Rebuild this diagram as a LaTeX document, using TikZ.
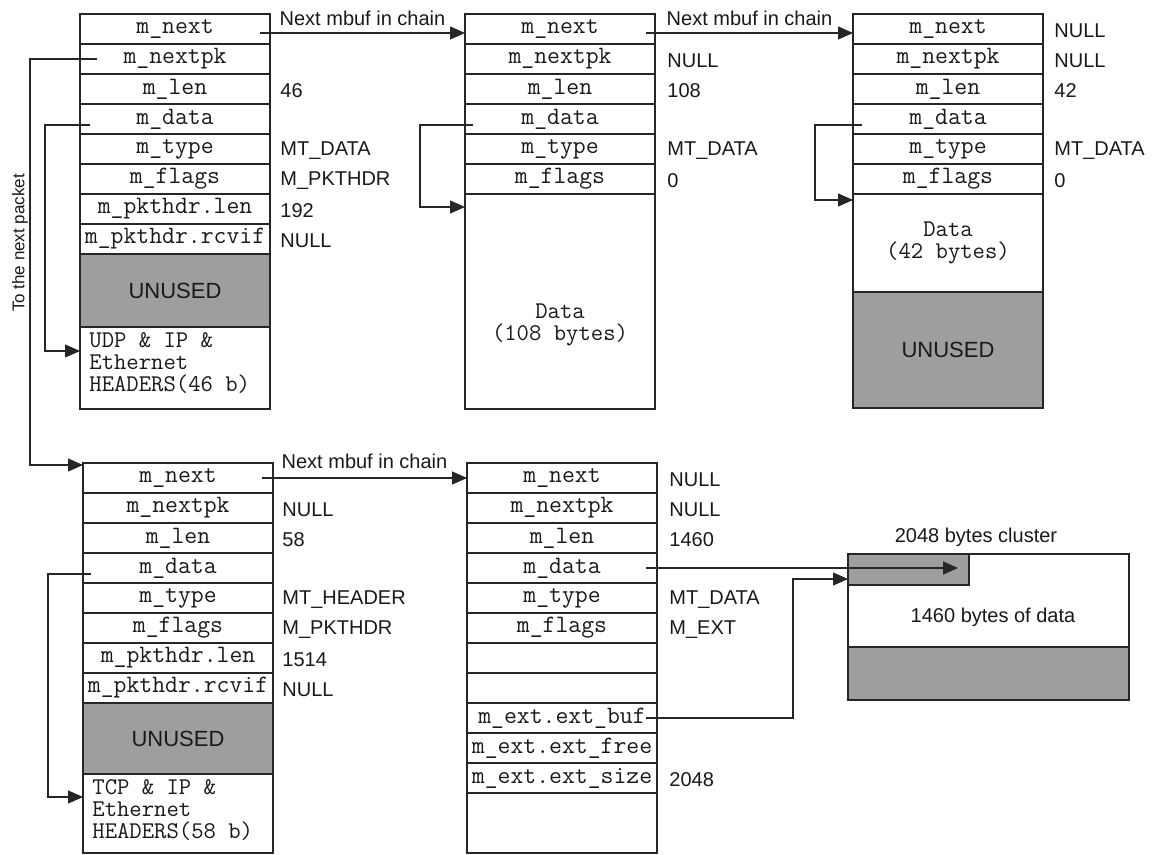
\documentclass[tikz,border=0pt]{standalone}
\usepackage{fontspec}
\setmainfont{Liberation Sans}
\usetikzlibrary{arrows.meta}
\begin{document}
\begin{tikzpicture}[x=0.5pt,y=-0.5pt,
  fld/.style={draw=black!85, line width=0.6pt, minimum width=95pt, minimum height=15pt,
    inner sep=0pt, outer sep=0pt, anchor=north west, text=black!90,
    font=\ttfamily\fontsize{12.5}{11}\selectfont, align=center},
  blk/.style={fld, minimum height=#1},
  gry/.style={fill=black!38},
  unusedtxt/.style={font=\fontsize{11}{12}\selectfont},
  val/.style={anchor=west, inner sep=0pt, yshift=-1pt, text=black!90, font=\fontsize{10}{12}\selectfont},
  lbl/.style={text=black!90, font=\fontsize{10}{12}\selectfont},
  mono/.style={text=black!90, font=\ttfamily\fontsize{12}{11}\selectfont},
  arr/.style={draw=black!85, line width=0.6pt, -{Triangle[length=7.5pt,width=6.5pt]}},
  ln/.style={draw=black!85, line width=0.6pt}
]
\useasboundingbox (0,0) rectangle (1155,855);

% ---------- mbuf A (top left) ----------
\node[fld] (A1) at (80,14) {m\_next};
\node[fld] (A2) at (A1.south west) {m\_nextpk};
\node[fld] (A3) at (A2.south west) {m\_len};
\node[fld] (A4) at (A3.south west) {m\_data};
\node[fld] (A5) at (A4.south west) {m\_type};
\node[fld] (A6) at (A5.south west) {m\_flags};
\node[fld] (A7) at (A6.south west) {m\_pkthdr.len};
\node[fld] (A8) at (A7.south west) {m\_pkthdr.rcvif};
\node[blk=36.5pt, gry, unusedtxt] (A9) at (A8.south west) {UNUSED};
\node[blk=41pt] (A10) at (A9.south west) {};
\node[mono, anchor=north west, inner sep=0pt, align=left] (A10t) at ([shift={(4.5pt,-2.5pt)}]A10.north west) {UDP \& IP \&\\Ethernet\\HEADERS(46 b)};
\node[val] (A3v) at ([xshift=5pt]A3.east) {46};
\node[val] (A5v) at ([xshift=5pt]A5.east) {MT\_DATA};
\node[val] (A6v) at ([xshift=5pt]A6.east) {M\_PKTHDR};
\node[val] (A7v) at ([xshift=5pt]A7.east) {192};
\node[val] (A8v) at ([xshift=5pt]A8.east) {NULL};

% ---------- mbuf B (top middle) ----------
\node[fld] (B1) at (465,14) {m\_next};
\node[fld] (B2) at (B1.south west) {m\_nextpk};
\node[fld] (B3) at (B2.south west) {m\_len};
\node[fld] (B4) at (B3.south west) {m\_data};
\node[fld] (B5) at (B4.south west) {m\_type};
\node[fld] (B6) at (B5.south west) {m\_flags};
\node[blk=107.5pt] (B7) at (B6.south west) {};
\node[mono, align=center, inner sep=0pt] (B7t) at ([yshift=-11.5pt]B7.center) {Data\\(108 bytes)};
\node[val] (B2v) at ([xshift=6pt]B2.east) {NULL};
\node[val] (B3v) at ([xshift=6pt]B3.east) {108};
\node[val] (B5v) at ([xshift=6pt]B5.east) {MT\_DATA};
\node[val] (B6v) at ([xshift=6pt]B6.east) {0};

% ---------- mbuf C (top right) ----------
\node[fld] (C1) at (853,14) {m\_next};
\node[fld] (C2) at (C1.south west) {m\_nextpk};
\node[fld] (C3) at (C2.south west) {m\_len};
\node[fld] (C4) at (C3.south west) {m\_data};
\node[fld] (C5) at (C4.south west) {m\_type};
\node[fld] (C6) at (C5.south west) {m\_flags};
\node[blk=49pt, font=\ttfamily\fontsize{12}{11}\selectfont] (C7) at (C6.south west) {Data\\(42 bytes)};
\node[blk=58pt, gry, unusedtxt] (C8) at (C7.south west) {UNUSED};
\node[val] (C1v) at ([xshift=5.5pt]C1.east) {NULL};
\node[val] (C2v) at ([xshift=5.5pt]C2.east) {NULL};
\node[val] (C3v) at ([xshift=5.5pt]C3.east) {42};
\node[val] (C5v) at ([xshift=5.5pt]C5.east) {MT\_DATA};
\node[val] (C6v) at ([xshift=5.5pt]C6.east) {0};

% ---------- mbuf D (bottom left) ----------
\node[fld] (D1) at (83,463) {m\_next};
\node[fld] (D2) at (D1.south west) {m\_nextpk};
\node[fld] (D3) at (D2.south west) {m\_len};
\node[fld] (D4) at (D3.south west) {m\_data};
\node[fld] (D5) at (D4.south west) {m\_type};
\node[fld] (D6) at (D5.south west) {m\_flags};
\node[fld] (D7) at (D6.south west) {m\_pkthdr.len};
\node[fld] (D8) at (D7.south west) {m\_pkthdr.rcvif};
\node[blk=35.5pt, gry, unusedtxt] (D9) at (D8.south west) {UNUSED};
\node[blk=39.5pt] (D10) at (D9.south west) {};
\node[mono, anchor=north west, inner sep=0pt, align=left] (D10t) at ([shift={(4.5pt,-2.5pt)}]D10.north west) {TCP \& IP \&\\Ethernet\\HEADERS(58 b)};
\node[val] (D2v) at ([xshift=4.5pt]D2.east) {NULL};
\node[val] (D3v) at ([xshift=4.5pt]D3.east) {58};
\node[val] (D5v) at ([xshift=4.5pt]D5.east) {MT\_HEADER};
\node[val] (D6v) at ([xshift=4.5pt]D6.east) {M\_PKTHDR};
\node[val] (D7v) at ([xshift=4.5pt]D7.east) {1514};
\node[val] (D8v) at ([xshift=4.5pt]D8.east) {NULL};

% ---------- mbuf E (bottom middle) ----------
\node[fld] (E1) at (467,463) {m\_next};
\node[fld] (E2) at (E1.south west) {m\_nextpk};
\node[fld] (E3) at (E2.south west) {m\_len};
\node[fld] (E4) at (E3.south west) {m\_data};
\node[fld] (E5) at (E4.south west) {m\_type};
\node[fld] (E6) at (E5.south west) {m\_flags};
\node[fld] (E7) at (E6.south west) {};
\node[fld] (E8) at (E7.south west) {};
\node[fld] (E9) at (E8.south west) {m\_ext.ext\_buf};
\node[fld] (E10) at (E9.south west) {m\_ext.ext\_free};
\node[fld] (E11) at (E10.south west) {m\_ext.ext\_size};
\node[blk=30pt] (E12) at (E11.south west) {};
\node[val] (E1v) at ([xshift=6pt]E1.east) {NULL};
\node[val] (E2v) at ([xshift=6pt]E2.east) {NULL};
\node[val] (E3v) at ([xshift=6pt]E3.east) {1460};
\node[val] (E5v) at ([xshift=6pt]E5.east) {MT\_DATA};
\node[val] (E6v) at ([xshift=6pt]E6.east) {M\_EXT};
\node[val] (E11v) at ([xshift=6pt]E11.east) {2048};

% ---------- cluster ----------
\node[blk=73pt, minimum width=140.5pt] (K) at (848,554) {};
\node[blk=26.5pt, minimum width=140.5pt, gry, anchor=south west] (Kg) at (K.south west) {};
\node[blk=15.5pt, minimum width=60.5pt, gry] (Kt) at (K.north west) {};
\node[lbl] (Ktxt) at (993,617) {1460 bytes of data};
\node[lbl] (Klbl) at (976,537) {2048 bytes cluster};

% ---------- connectors ----------
\draw[arr] ([shift={(-5pt,-2pt)}]A1.east) -- node[lbl, above, inner sep=2pt, yshift=1.5pt] (L1) {Next mbuf in chain} ([yshift=-2pt]B1.west);
\draw[arr] ([shift={(-4.5pt,-2pt)}]B1.east) -- node[lbl, above, inner sep=2pt, yshift=1.5pt] (L2) {Next mbuf in chain} ([yshift=-2pt]C1.west);
\draw[arr] ([xshift=-5.5pt]D1.east) -- node[lbl, above, inner sep=2pt, yshift=2.5pt] (L3) {Next mbuf in chain} (E1.west);

% next packet
\draw[arr] ([xshift=8.5pt]A2.west) -| ([shift={(-26.5pt,-1pt)}]D1.north west) -- ([yshift=-1pt]D1.north west);
\node[lbl, rotate=90, font=\fontsize{8.5}{10}\selectfont] (NP) at (20,243) {To the next packet};

% m_data pointers
\draw[arr] ([shift={(5pt,-3pt)}]A4.west) -| ([shift={(-17.5pt,-12pt)}]A10.north west) -- ([yshift=-12pt]A10.north west);
\draw[arr] ([shift={(4pt,-3pt)}]B4.west) -| ([shift={(-22.5pt,-6.5pt)}]B7.north west) -- ([yshift=-6.5pt]B7.north west);
\draw[arr] ([shift={(4.5pt,-3pt)}]C4.west) -| ([shift={(-19pt,-3pt)}]C7.north west) -- ([yshift=-3pt]C7.north west);
\draw[arr] ([shift={(4pt,-3pt)}]D4.west) -| ([shift={(-17.5pt,-11.5pt)}]D10.north west) -- ([yshift=-11.5pt]D10.north west);
\draw[arr] ([xshift=-5.5pt]E4.east) -- ([xshift=-5.5pt]E4.east -| Kt.east);
\draw[arr] ([xshift=-5.5pt]E9.east) -| ([shift={(-27.5pt,-12.5pt)}]K.north west) -- ([yshift=-12.5pt]K.north west);
\end{tikzpicture}
\end{document}
